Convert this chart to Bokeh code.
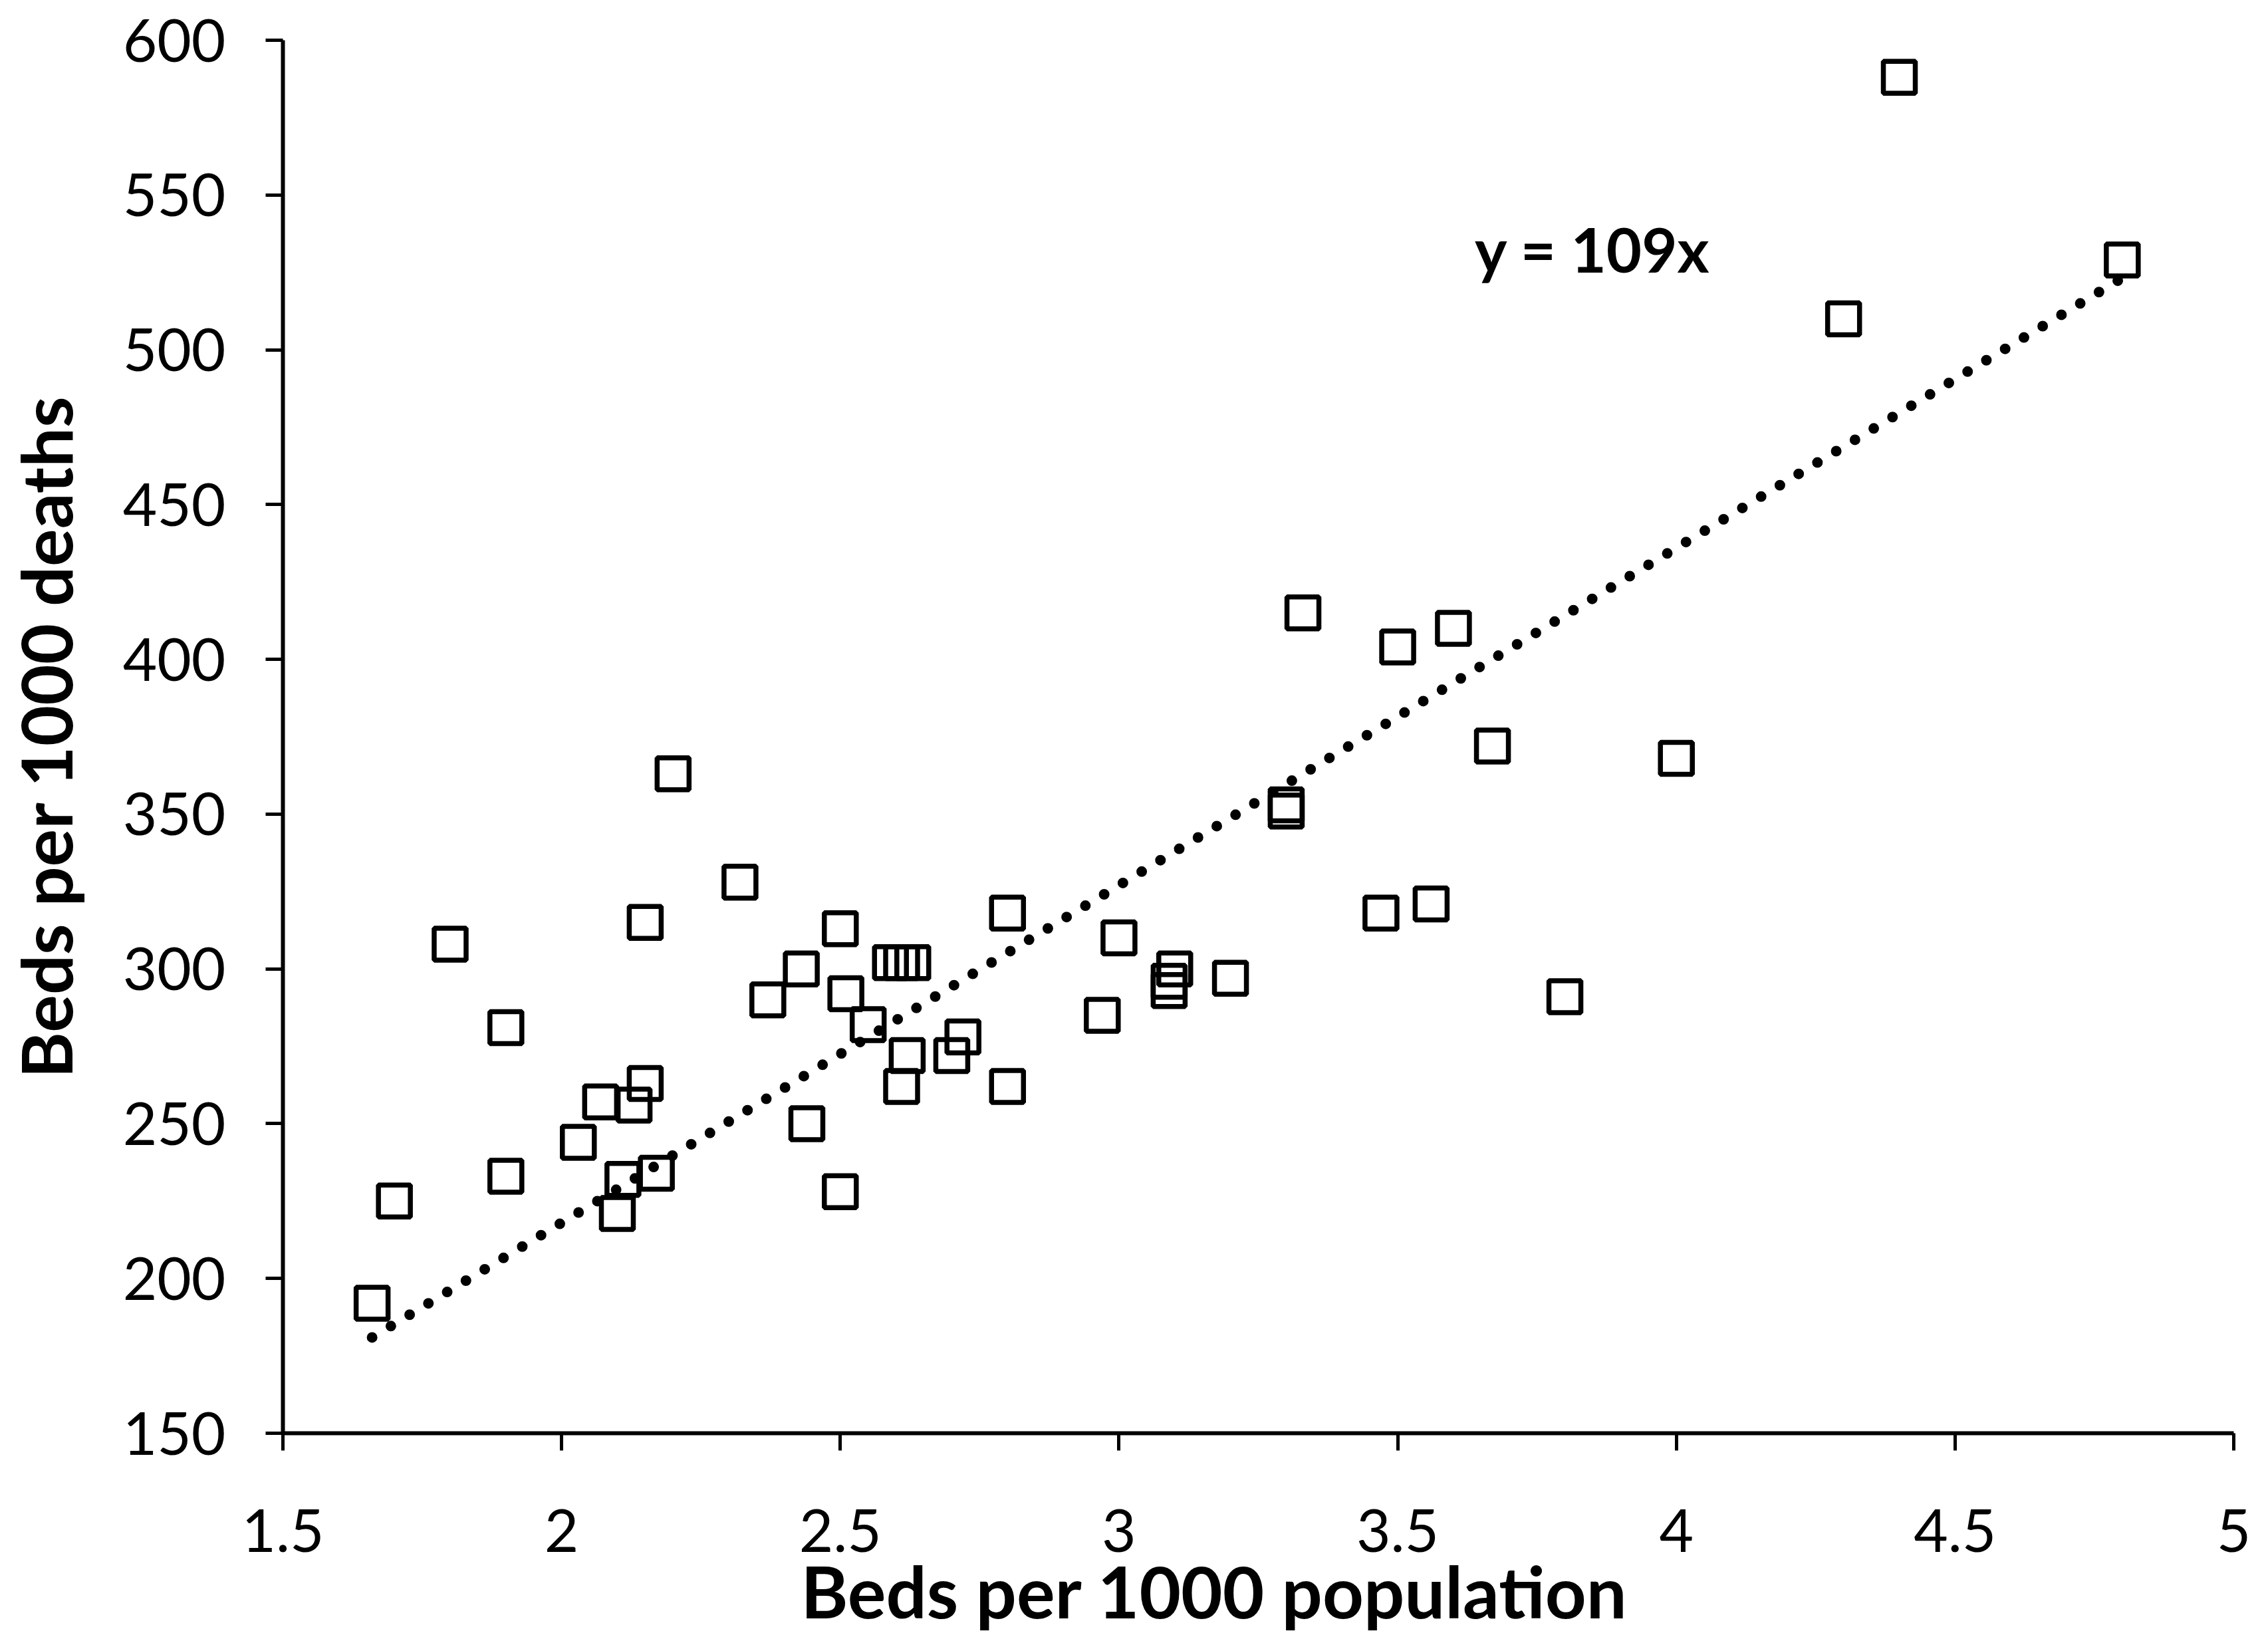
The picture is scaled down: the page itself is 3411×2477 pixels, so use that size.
from bokeh.plotting import figure
from bokeh.models import FixedTicker, Range1d, Label, Title
from bokeh.embed import file_html
from bokeh.resources import INLINE

# ---- data ----
beds_pop = [1.66, 1.70, 1.80, 1.90, 1.90, 2.03, 2.07, 2.10, 2.11, 2.13,
            2.15, 2.15, 2.17, 2.20, 2.32, 2.37, 2.43, 2.44, 2.50, 2.50,
            2.51, 2.55, 2.59, 2.61, 2.63, 2.62, 2.61, 2.70, 2.72, 2.80,
            2.80, 2.97, 3.00, 3.10, 3.09, 3.09, 3.20, 3.30, 3.30, 3.33,
            3.47, 3.50, 3.56, 3.60, 3.67, 3.80, 4.00, 4.30, 4.40, 4.80]
beds_deaths = [192, 225, 308, 281, 233, 244, 257, 221, 232, 256,
               263, 315, 234, 363, 328, 290, 300, 250, 313, 228,
               292, 282, 302, 302, 302, 272, 262, 272, 278, 318,
               262, 285, 310, 300, 296, 293, 297, 353, 351, 415,
               318, 404, 321, 410, 372, 291, 368, 510, 588, 529]

trend_slope = 109
trend_x = [1.66, 4.80]
trend_y = [trend_slope * v for v in trend_x]

x_ticks = [1.5, 2, 2.5, 3, 3.5, 4, 4.5, 5]
x_tick_labels = ["1.5", "2", "2.5", "3", "3.5", "4", "4.5", "5"]
y_ticks = [150, 200, 250, 300, 350, 400, 450, 500, 550, 600]
y_tick_labels = ["150", "200", "250", "300", "350", "400", "450", "500", "550", "600"]

equation_text = "y = 109x"
x_title = "Beds per 1000 population"
y_title = "Beds per 1000 deaths"

FONT = "Lato"

p = figure(width=3395, height=2460, output_backend="svg", toolbar_location=None,
           x_range=Range1d(1.5, 5), y_range=Range1d(150, 600),
           min_border_left=417, min_border_right=36, min_border_top=60,
           min_border_bottom=305)
p.background_fill_color = "white"
p.border_fill_color = "white"
p.outline_line_color = None
p.grid.visible = False

# trend line (dotted)
p.line(trend_x, trend_y, line_color="black", line_width=16,
       line_dash="0 33", line_cap="round")

# data squares
p.scatter(beds_pop, beds_deaths, marker="square", size=48,
          fill_color=None, line_color="black", line_width=7.5)

# axes
for ax in (p.xaxis[0], p.yaxis[0]):
    ax.axis_line_width = 6
    ax.axis_line_color = "black"
    ax.major_tick_line_width = 5
    ax.major_tick_line_color = "black"
    ax.major_tick_out = 26
    ax.major_tick_in = 0
    ax.minor_tick_line_color = None
    ax.major_label_text_font = FONT
    ax.major_label_text_font_size = "89px"
    ax.major_label_text_color = "black"
    ax.axis_label_text_font = FONT
    ax.axis_label_text_font_size = "106px"
    ax.axis_label_text_font_style = "bold"
    ax.axis_label_text_color = "black"

p.xaxis[0].ticker = FixedTicker(ticks=x_ticks)
p.xaxis[0].major_label_overrides = {t: l for t, l in zip(x_ticks, x_tick_labels)}
p.xaxis[0].major_label_standoff = 88
p.yaxis[0].ticker = FixedTicker(ticks=y_ticks)
p.yaxis[0].major_label_overrides = {t: l for t, l in zip(y_ticks, y_tick_labels)}
p.yaxis[0].major_label_standoff = 60
p.yaxis[0].axis_label = y_title
p.yaxis[0].axis_label_standoff = 50

# x axis title (slightly left of centre, as in the reference)
p.add_layout(Title(text=x_title, align="left", offset=779, text_font=FONT,
                   text_font_size="108px", text_font_style="bold",
                   text_color="black", standoff=-24), "below")

# equation label
p.add_layout(Label(x=3.85, y=532.5, text=equation_text, text_font=FONT,
                   text_font_size="92px", text_font_style="bold",
                   text_align="center", text_baseline="middle",
                   text_color="black"))

open("out.html", "w").write(file_html(p, INLINE))
